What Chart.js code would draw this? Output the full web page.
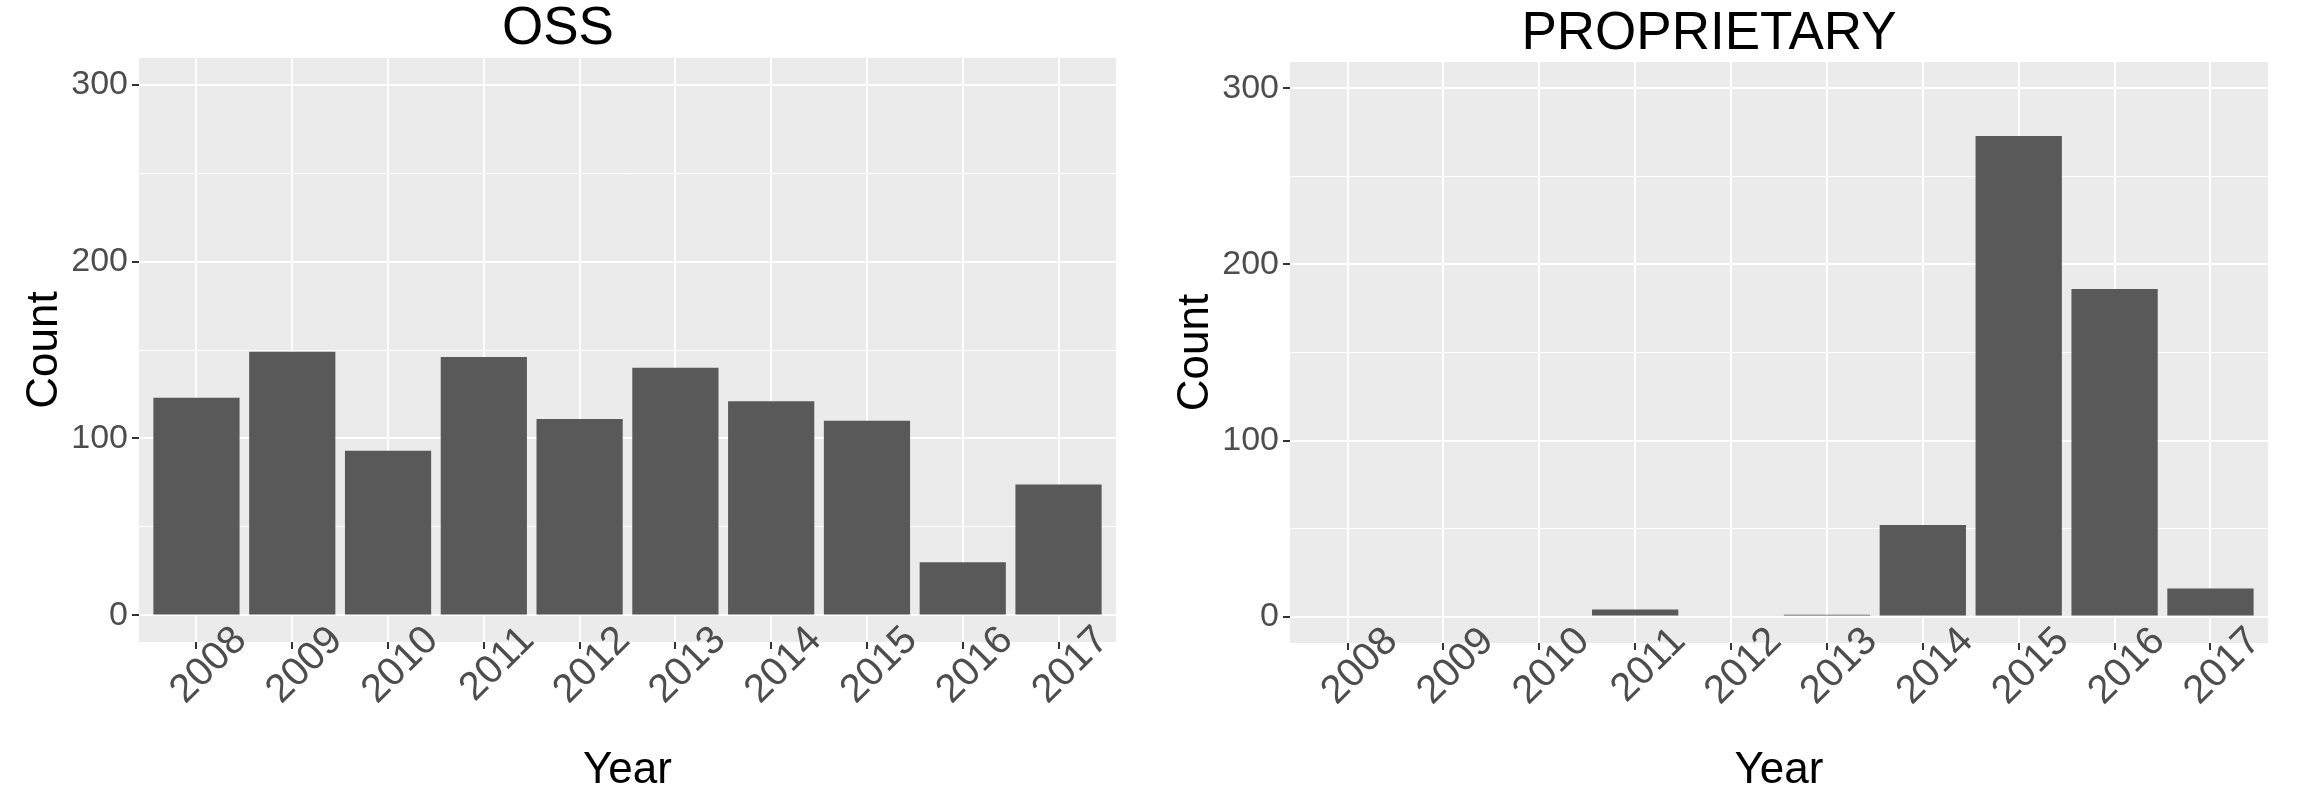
<!DOCTYPE html>
<html>
<head>
<meta charset="utf-8">
<script src="https://cdn.jsdelivr.net/npm/chart.js@4"></script>
<style>
  body { margin: 0; background: #fff; overflow: hidden; width: 2298px; height: 806px; position: relative; }
  canvas { position: absolute; top: 0; }
  #oss { left: 0; }
  #prop { left: 1150px; }
</style>
</head>
<body>
<canvas id="oss" width="1255" height="806"></canvas>
<canvas id="prop" width="1258" height="806"></canvas>
<script>
const years = [2008, 2009, 2010, 2011, 2012, 2013, 2014, 2015, 2016, 2017];
const ossCounts = [123, 149, 93, 146, 111, 140, 121, 110, 30, 74];
const proprietaryCounts = [0, 0, 0, 4, 0, 1, 52, 273, 186, 16];
const countTicks = [0, 100, 200, 300];
const minorTicks = [50, 150, 250];

const FONT = "'Liberation Sans', Arial, sans-serif";
Chart.defaults.font.family = FONT;

// grey panel behind the plot area, like ggplot's theme_grey
const panelBg = {
  id: "panelBg",
  beforeDraw(chart) {
    const a = chart.chartArea;
    chart.ctx.save();
    chart.ctx.fillStyle = "#EBEBEB";
    chart.ctx.fillRect(a.left, a.top, a.right - a.left, a.bottom - a.top);
    chart.ctx.restore();
  },
};

function makeChart(el, title, counts, o) {
  return new Chart(document.getElementById(el), {
    type: "bar",
    data: {
      datasets: [
        {
          label: title,
          data: years.map((y, i) => ({ x: y, y: counts[i] })),
          backgroundColor: "#595959",
          borderWidth: 0,
          barPercentage: 0.9,
          categoryPercentage: 1,
        },
      ],
    },
    plugins: [panelBg],
    options: {
      responsive: false,
      animation: false,
      layout: { padding: { left: 0, right: o.padRight, top: 0, bottom: o.xHeight } },
      plugins: {
        legend: { display: false },
        tooltip: { enabled: false },
        title: {
          display: true,
          text: title,
          color: "#000",
          font: { size: 53, weight: "normal", lineHeight: 1 },
          padding: { top: o.titleTop, bottom: o.titleBottom },
        },
      },
      scales: {
        x: {
          type: "linear",
          // anchored at the bottom of the y range so labels are not clipped to the axis box
          position: { y: -15 },
          offset: false,
          min: years[0] - 0.6,
          max: years[years.length - 1] + 0.6,
          afterBuildTicks: (s) => { s.ticks = years.map((v) => ({ value: v })); },
          afterFit: (s) => { s.height = o.xHeight; },
          border: { display: false },
          grid: { offset: false, color: "#fff", lineWidth: 2, tickColor: "#333", tickWidth: 2, tickLength: 7 },
          ticks: {
            autoSkip: false,
            minRotation: 45,
            maxRotation: 45,
            labelOffset: 44,
            padding: -32,
            color: "#4D4D4D",
            font: { size: 40 },
            callback: (v) => String(v),
          },
          title: {
            display: true,
            text: "Year",
            color: "#000",
            font: { size: 44 },
            padding: { top: 0, bottom: 9 },
          },
        },
        y: {
          min: -15,
          max: 315,
          afterBuildTicks: (s) => {
            s.ticks = countTicks.concat(minorTicks).sort((a, b) => a - b).map((v) => ({ value: v }));
          },
          afterFit: (s) => { s.width = o.yWidth; },
          border: { display: false },
          grid: {
            color: "#fff",
            lineWidth: (c) => (countTicks.includes(c.tick.value) ? 2 : 1),
            tickColor: (c) => (countTicks.includes(c.tick.value) ? "#333" : "rgba(0,0,0,0)"),
            tickWidth: 2,
            tickLength: 7,
          },
          ticks: {
            padding: 4,
            color: "#4D4D4D",
            font: { size: 34 },
            callback: (v) => (countTicks.includes(v) ? String(v) : ""),
          },
          title: {
            display: true,
            text: "Count",
            color: "#000",
            font: { size: 44 },
            padding: { top: o.yTitlePad, bottom: 0 },
          },
        },
      },
    },
  });
}

makeChart("oss", "OSS", ossCounts, {
  padRight: 139, titleTop: 3, titleBottom: 2, xHeight: 164, yWidth: 139, yTitlePad: 18,
});
makeChart("prop", "PROPRIETARY", proprietaryCounts, {
  padRight: 140, titleTop: 7.4, titleBottom: 1.6, xHeight: 163, yWidth: 140, yTitlePad: 19,
});
</script>
</body>
</html>
